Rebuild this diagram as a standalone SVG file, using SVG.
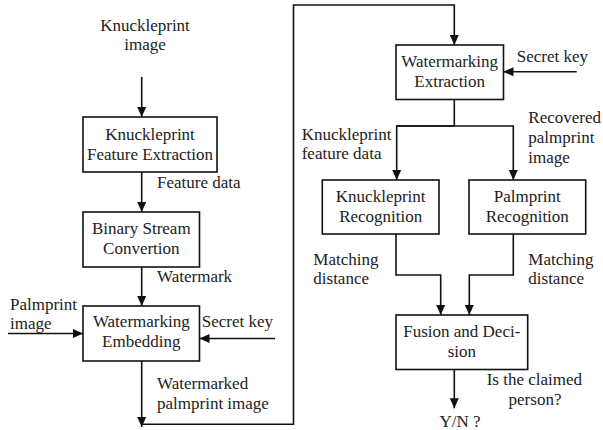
<svg xmlns="http://www.w3.org/2000/svg" width="603" height="430" viewBox="0 0 603 430">
<defs>
<marker id="ah" markerUnits="userSpaceOnUse" markerWidth="10" markerHeight="10" viewBox="0 0 10 10" refX="10" refY="5" orient="auto">
<path d="M0,0.5 L10,5 L0,9.5 Z" fill="#111"/>
</marker>
<style>
text{font-family:'Liberation Serif','Times New Roman','Tinos','DejaVu Serif',serif;font-size:17px;fill:#222}
.c{text-anchor:middle}
rect{fill:#fff;stroke:#111;stroke-width:1.6}
.ln{fill:none;stroke:#111;stroke-width:1.6}
.ar{fill:none;stroke:#111;stroke-width:1.6;marker-end:url(#ah)}
</style>
</defs>
<rect x="0" y="0" width="603" height="430" style="fill:#fff;stroke:none"/>
<g id="connectors">
<line class="ar" x1="141.7" y1="77" x2="141.7" y2="117"/>
<line class="ar" x1="141.7" y1="172" x2="141.7" y2="212"/>
<line class="ar" x1="141.7" y1="267" x2="141.7" y2="306"/>
<line class="ar" x1="8" y1="333.5" x2="83" y2="333.5"/>
<line class="ar" x1="275" y1="338.5" x2="199.5" y2="338.5"/>
<line class="ar" x1="141.7" y1="361" x2="141.7" y2="427"/>
<polyline class="ar" points="141.7,424.3 293.5,424.3 293.5,5 454.3,5 454.3,45"/>
<line class="ar" x1="576.7" y1="71.7" x2="503.5" y2="71.7"/>
<polyline class="ln" points="454.3,99.5 454.3,126 396.7,126"/>
<polyline class="ar" points="454.3,126 396.7,126 396.7,180"/>
<polyline class="ar" points="454.3,126 513.3,126 513.3,180"/>
<polyline class="ar" points="396,234 396,275 440.7,275 440.7,315"/>
<polyline class="ar" points="513.3,234 513.3,275 469.3,275 469.3,315"/>
<line class="ar" x1="454.3" y1="369.5" x2="454.3" y2="408.3"/>
</g>
<g id="labels">
<text class="c" x="145" y="31">Knuckleprint</text>
<text class="c" x="145" y="50">image</text>
<text x="157" y="188">Feature data</text>
<text x="157" y="282">Watermark</text>
<text x="10" y="310">Palmprint</text>
<text x="10" y="328.5">image</text>
<text x="201.7" y="327">Secret key</text>
<text x="157" y="388.5">Watermarked</text>
<text x="157" y="408.5">palmprint image</text>
<text x="516.7" y="62">Secret key</text>
<text x="301.7" y="140">Knuckleprint</text>
<text x="301.7" y="158.5">feature data</text>
<text x="528.3" y="122.5">Recovered</text>
<text x="528.3" y="142.5">palmprint</text>
<text x="528.3" y="163">image</text>
<text x="313.3" y="265">Matching</text>
<text x="313.3" y="284">distance</text>
<text x="528.3" y="265">Matching</text>
<text x="528.3" y="284">distance</text>
<text x="486.7" y="385">Is the claimed</text>
<text class="c" x="535" y="405">person?</text>
<text class="c" x="460" y="427">Y/N ?</text>
</g>
<g id="knuckleprint-feature-extraction">
<rect x="83" y="117" width="134" height="55"/>
<text class="c" x="150" y="140">Knuckleprint</text>
<text class="c" x="150" y="160">Feature Extraction</text>
</g>
<g id="binary-stream-convertion">
<rect x="83" y="212" width="116.5" height="55"/>
<text class="c" x="141.3" y="233.5">Binary Stream</text>
<text class="c" x="141.3" y="253.5">Convertion</text>
</g>
<g id="watermarking-embedding">
<rect x="83" y="306" width="116.5" height="55"/>
<text class="c" x="141.3" y="327">Watermarking</text>
<text class="c" x="141.3" y="347">Embedding</text>
</g>
<g id="watermarking-extraction">
<rect x="396" y="45" width="107.5" height="54.5"/>
<text class="c" x="449.7" y="67">Watermarking</text>
<text class="c" x="449.7" y="87">Extraction</text>
</g>
<g id="knuckleprint-recognition">
<rect x="322.3" y="180" width="116.7" height="54"/>
<text class="c" x="380.7" y="202">Knuckleprint</text>
<text class="c" x="380.7" y="222">Recognition</text>
</g>
<g id="palmprint-recognition">
<rect x="469" y="180" width="116.7" height="54"/>
<text class="c" x="527.3" y="202">Palmprint</text>
<text class="c" x="527.3" y="222">Recognition</text>
</g>
<g id="fusion-and-decision">
<rect x="396" y="315" width="131.7" height="54.5"/>
<text class="c" x="461.8" y="337">Fusion and Deci-</text>
<text class="c" x="461.8" y="357">sion</text>
</g>
</svg>
